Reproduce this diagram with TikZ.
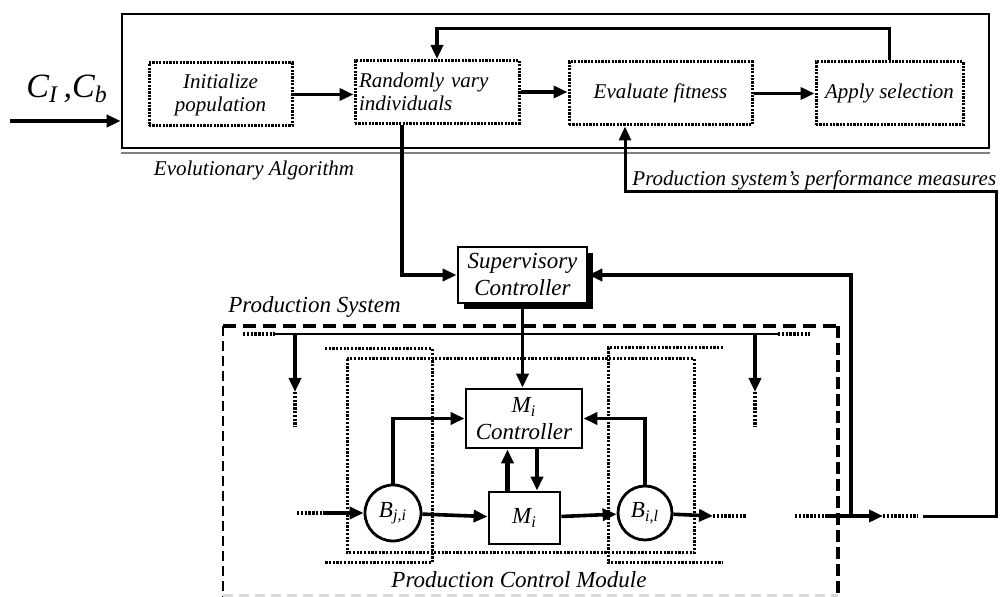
\documentclass[tikz,border=0pt]{standalone}
\usepackage{fontspec}
\setmainfont{Liberation Serif}
\usepackage{tikz}
\usetikzlibrary{arrows.meta, shadows}

\begin{document}
\begin{tikzpicture}[x=0.5pt, y=-0.5pt, thick,
	font=\itshape\fontsize{10.5}{11.5}\selectfont,
	dotbox/.style={draw, line width=1.5pt, dash pattern=on 1.1pt off 0.6pt, inner sep=2pt, minimum height=31.5pt},
	blk/.style={draw, line width=1.4pt, inner sep=1pt, align=center, font=\itshape\fontsize{11.5}{13.5}\selectfont},
	buf/.style={circle, draw, line width=1.4pt, inner sep=0pt, font=\itshape\fontsize{11.5}{12}\selectfont},
	arr/.style={line width=1.8pt, -{Triangle[length=7pt, width=6pt]}},
	dots/.style={line width=1.8pt, dash pattern=on 1.2pt off 0.7pt},
	pcm/.style={line width=1.5pt, dash pattern=on 1.1pt off 0.75pt}]
	\useasboundingbox (0,0) rectangle (1001,597);
	
	\node[draw, line width=1.3pt, minimum width=433.5pt, minimum height=67pt, inner sep=0pt] (ea) at (555.5,81) {};
	\draw[gray, line width=1.2pt] ([yshift=-2pt]ea.south west) -- ([yshift=-2pt]ea.south east);
	
	\node[dotbox, minimum width=71.5pt, align=center] (init) at (220.5,94.5) {Initialize\\population};
	\node[dotbox, text width=78pt, align=left] (rand) at (437,92) {Randomly vary\\individuals};
	\node[dotbox, minimum width=91.5pt] (eval) at (660.5,93.5) {Evaluate fitness};
	\node[dotbox, minimum width=73.5pt] (apply) at (889.5,93.5) {Apply selection};
	
	\coordinate (cin) at (10,121);
	\draw[arr] (cin) -- (cin -| ea.west);
	\node[font=\itshape\fontsize{17}{18}\selectfont] (cc) at (67,89) {C\textsubscript{I}\,,C\textsubscript{b}};
	
	\draw[arr] (init) -- (init -| rand.west);
	\draw[arr] (rand) -- (rand -| eval.west);
	\draw[arr] (eval) -- (apply);
	\draw[arr] (apply.north) -- ++(0,-32) -| (rand.north);
	
	\node (ealabel) at (254,170) {Evolutionary Algorithm};
	\node[anchor=west] (pmlabel) at (625,180) {Production system’s performance measures};
	
	\node[blk, fill=white, minimum width=64.5pt, minimum height=28pt, general shadow={fill=black, shadow xshift=3pt, shadow yshift=-3pt}] (sup) at (522.5,275) {Supervisory\\Controller};
	\draw[arr] ([xshift=-17.5pt]rand.south) |- (sup.west);
	
	\draw[line width=1.7pt, dash pattern=on 6.5pt off 3.5pt] (223,326) -- (838,326);
	\draw[line width=2.2pt, dash pattern=on 6pt off 2.5pt] (838,326) -- (838,597);
	\draw[line width=0.7pt, dash pattern=on 5pt off 2.5pt] (223,326) -- (223,597);
	\draw[gray!30, line width=1.5pt, dash pattern=on 5pt off 3pt] (223,596) -- (838,596);
	\node[font=\itshape\fontsize{11.5}{12}\selectfont] (pslabel) at (314.5,307) {Production System};
	
	\draw[line width=1.2pt] (275,334) -- (778,334);
	\draw[dots] (243,334) -- (275,334);
	\draw[dots] (778,334) -- (810,334);
	\foreach \bx in {295, 755} {
		\draw[arr] (\bx,334) -- (\bx,392);
		\draw[dots] (\bx,392) -- (\bx,427);
	}
	
	\draw[pcm] (347,359) rectangle (694,553);
	\draw[pcm] (325,349) -- (432,349) -- (432,563) -- (325,563);
	\draw[pcm] (723,348) -- (608,348) -- (608,563) -- (723,563);
	
	\node[blk, minimum width=58pt, minimum height=29.5pt] (ctrl) at (524,418.5) {M\textsubscript{i}\\Controller};
	\node[blk, minimum width=35.5pt, minimum height=26pt] (mi) at (524.5,518) {M\textsubscript{i}};
	\node[buf, minimum size=28pt] (bji) at (393,513) {B\textsubscript{j,i}};
	\node[buf, minimum size=27pt] (bil) at (645,513) {B\textsubscript{i,l}};
	
	\draw[arr] (sup.south) -- (sup.south |- ctrl.north);
	
	\coordinate (bin) at (323,513);
	\draw[dots] (297,513) -- (bin);
	\draw[arr] (bin) -- (bji);
	\draw[arr] (bji) -- (mi);
	\draw[arr] (mi) -- (bil);
	\coordinate (bout) at (713,516);
	\draw[arr] (bil) -- (bout);
	\draw[dots] (bout) -- (747,516);
	\draw[arr] (bji.north) |- (ctrl.west);
	\draw[arr] (bil.north) |- (ctrl.east);
	\draw[arr] ([xshift=6.5pt]ctrl.south) -- ([xshift=6.5pt]ctrl.south |- mi.north);
	\draw[arr, line width=2.3pt] ([xshift=-8.5pt]mi.north) -- ([xshift=-8.5pt]mi.north |- ctrl.south);
	
	\draw[dots] (795,516) -- (825,516);
	\coordinate (tap) at (851,516);
	\draw[arr] (825,516) -- (883,516);
	\draw[dots] (883,516) -- (918,516);
	\draw[arr] (tap) |- (sup.east);
	\coordinate (pm) at (923,517);
	\draw[arr, line width=1.5pt] (pm) -- (996,517) |- (625,192) -- ([xshift=-17.75pt]eval.south);
	
	\node[font=\itshape\fontsize{11.5}{12}\selectfont] (pcmlabel) at (519,580) {Production Control Module};
\end{tikzpicture}
\end{document}
